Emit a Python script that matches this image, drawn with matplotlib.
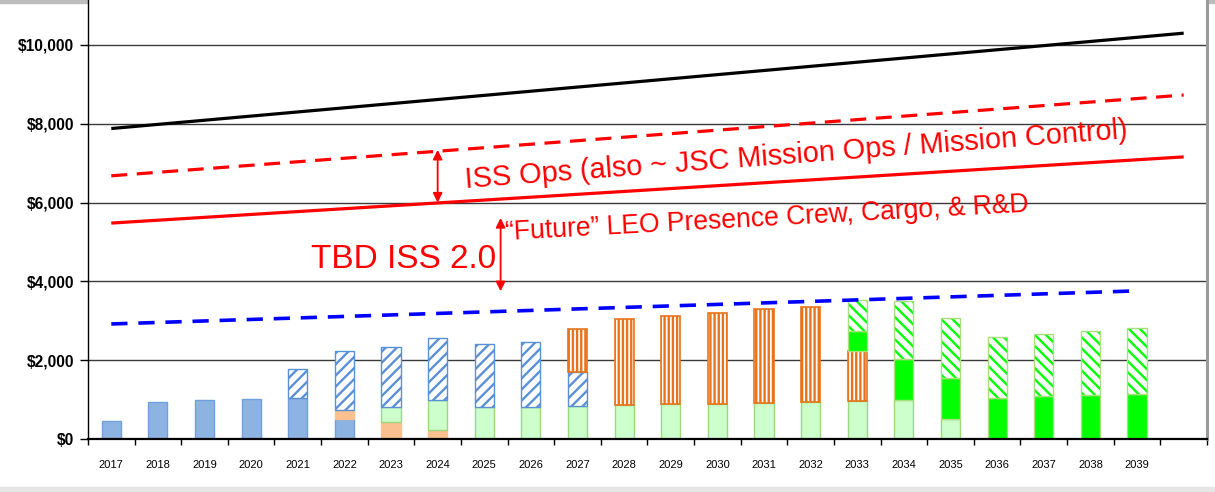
import numpy as np
import matplotlib
matplotlib.use("Agg")
import matplotlib.pyplot as plt
from matplotlib.ticker import FuncFormatter

# years shown on the axis (an extra empty slot follows 2039)
years = list(range(2017, 2040))

# stacked bar segments, $M
blue_solid = [460, 950, 990, 1010, 1030, 500] + [0] * 17
orange_solid = [0, 0, 0, 0, 0, 240, 420, 230] + [0] * 15
light_green = [0] * 6 + [400, 770, 800, 820, 840, 860, 880, 900, 920, 950, 970, 1000, 510, 0, 0, 0, 0]
blue_hatch = [0, 0, 0, 0, 740, 1490, 1520, 1570, 1600, 1650, 860] + [0] * 12
orange_vert = [0] * 10 + [1100, 2190, 2250, 2310, 2370, 2410, 1270, 0, 0, 0, 0, 0, 0]
bright_green = [0] * 16 + [500, 1020, 1040, 1050, 1080, 1110, 1130]
green_hatch = [0] * 16 + [790, 1480, 1510, 1550, 1590, 1630, 1680]

# budget lines (start / end values)
black_years = [2017, 2040]
black_vals = [7880, 10300]
red_dash_years = [2017, 2040]
red_dash_vals = [6680, 8730]
red_solid_years = [2017, 2040]
red_solid_vals = [5480, 7160]
blue_dash_years = [2017, 2039]
blue_dash_vals = [2920, 3760]

plt.rcParams["font.family"] = ["Liberation Sans", "DejaVu Sans"]
plt.rcParams["hatch.linewidth"] = 1.7

fig = plt.figure(figsize=(12.15, 4.92), dpi=100)
# grey band at bottom and shadow at top
fig.patches.append(plt.Rectangle((0, 0), 1, 0.01, transform=fig.transFigure, color="#e6e6e6", zorder=-5))
fig.patches.append(plt.Rectangle((0, 0.994), 1, 0.006, transform=fig.transFigure, color="#bdbdbd", zorder=-5))
ax = fig.add_axes([0.0724, 0.1077, 0.9210, 0.8923])

x = np.arange(len(years))
w = 0.41
bottom = np.zeros(len(years))


def stack(vals, **kw):
    # only draw the non-empty segments, zero bars would leave an edge line
    global bottom
    v = np.array(vals, dtype=float)
    m = v > 0
    ax.bar(x[m], v[m], w, bottom=bottom[m], zorder=2, **kw)
    b = bottom.copy()
    bottom = bottom + v
    return b, m


stack(blue_solid, color="#8db3e2", edgecolor="#6f9fdc", linewidth=1)
stack(orange_solid, color="#fac08f", edgecolor="#fac08f", linewidth=1)
stack(light_green, color="#ccffcc", edgecolor="#9cd87c", linewidth=1)
stack(blue_hatch, facecolor="white", edgecolor="#5b8fd6", hatch="///", linewidth=1)
stack(orange_vert, facecolor="white", edgecolor="#e8731a", hatch="||||", linewidth=1.2)
stack(bright_green, color="#00ff00", edgecolor="#a8e07c", linewidth=1)
b0, m0 = stack(green_hatch, facecolor="white", edgecolor="#00ff00", hatch="\\\\\\", linewidth=0)
gh = np.array(green_hatch, dtype=float)
ax.bar(x[m0], gh[m0], w, bottom=b0[m0], fill=False, edgecolor="#a8e07c", linewidth=1, zorder=2)


def pos(yrs):
    return [y - 2017 for y in yrs]


ax.plot(pos(black_years), black_vals, color="black", lw=2.3, zorder=4, solid_capstyle="butt")
ax.plot(pos(red_dash_years), red_dash_vals, color="#ff0000", lw=2.3, ls=(0, (5, 3)), zorder=4)
ax.plot(pos(red_solid_years), red_solid_vals, color="#ff0000", lw=2.3, zorder=4, solid_capstyle="butt")
ax.plot(pos(blue_dash_years), blue_dash_vals, color="#0000ff", lw=2.6, ls=(0, (4.5, 3)), zorder=4)

# annotations
arr = dict(arrowstyle="<|-|>", color="#ff0000", lw=1.3, mutation_scale=14, shrinkA=0, shrinkB=0)
ax.annotate("", xy=(7.0, 7340), xytext=(7.0, 6000), arrowprops=arr, zorder=5)
ax.annotate("", xy=(8.35, 5610), xytext=(8.35, 3750), arrowprops=arr, zorder=5)

txt = dict(color="#ff0000", family="Liberation Sans", ha="left", va="baseline",
           rotation_mode="anchor", zorder=6)
ax.text(4.28, 4340, "TBD ISS 2.0", fontsize=24, **txt)
ax.text(7.6, 6360, "ISS Ops (also ~ JSC Mission Ops / Mission Control)", fontsize=20.8,
        rotation=4.3, **txt)
ax.text(8.45, 5040, "\u201cFuture\u201d LEO Presence Crew, Cargo, & R&D", fontsize=19.1,
        rotation=3.1, **txt)

ax.set_xlim(-0.5, 23.5)
ax.set_ylim(0, 11142)
ax.set_yticks(range(0, 10001, 2000))
ax.yaxis.set_major_formatter(FuncFormatter(lambda v, p: "${:,.0f}".format(v)))
for lbl in ax.get_yticklabels():
    lbl.set_fontweight("bold")
ax.tick_params(axis="y", labelsize=11.2, length=6, width=1, pad=4)

ax.set_xticks(np.arange(-0.5, 24, 1))
ax.set_xticklabels([])
ax.set_xticks(x, minor=True)
ax.set_xticklabels([str(y) for y in years], minor=True)
ax.tick_params(axis="x", which="major", length=4, width=1, direction="out")
ax.tick_params(axis="x", which="minor", length=0, labelsize=8, pad=15)

ax.grid(axis="y", color="#3a3a3a", lw=1, zorder=1)
ax.set_axisbelow(True)
ax.spines["top"].set_visible(False)
ax.spines["right"].set_color("#9a9a9a")
ax.spines["right"].set_linewidth(2.2)
ax.spines["bottom"].set_linewidth(1.6)
ax.spines["left"].set_linewidth(1)

fig.savefig("out.png", dpi=100)
